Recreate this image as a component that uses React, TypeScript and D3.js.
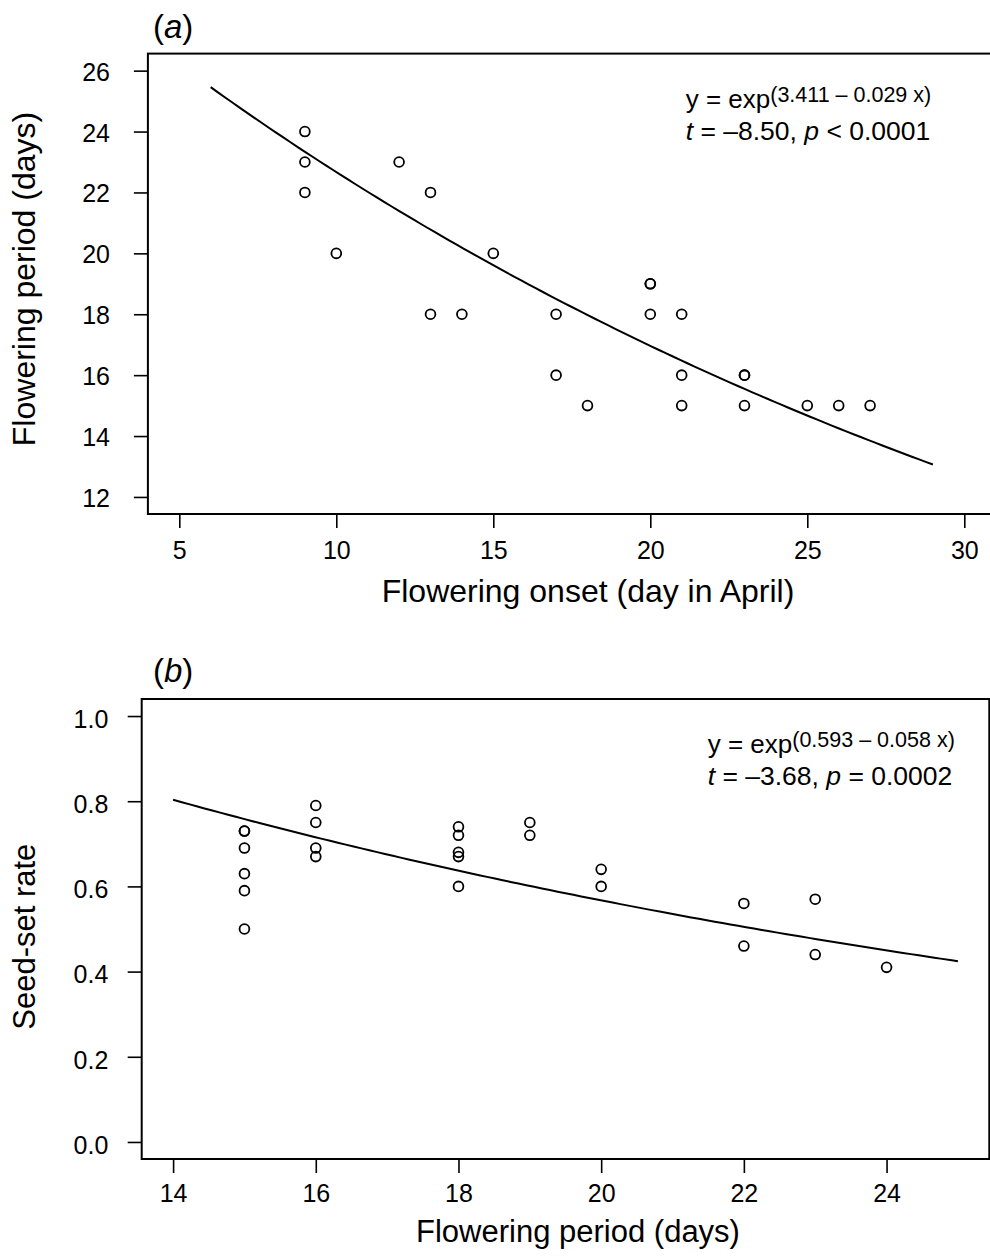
import { useEffect, useRef } from 'react';
import * as d3 from 'd3';

const FONT = '"Liberation Sans", Arial, Helvetica, sans-serif';

// (a) flowering onset (day in April) vs flowering period (days)
const onsetDay = [9, 9, 9, 10, 12, 13, 13, 14, 15, 17, 17, 18, 20, 20, 20, 21, 21, 21, 23, 23, 23, 25, 26, 27];
const onsetPeriod = [24, 23, 22, 20, 23, 22, 18, 18, 20, 18, 16, 15, 19, 19, 18, 18, 16, 15, 16, 16, 15, 15, 15, 15];
const onsetTicksX = [5, 10, 15, 20, 25, 30];
const onsetTicksY = [12, 14, 16, 18, 20, 22, 24, 26];
const onsetFit = { a: 3.411, b: -0.029, from: 6, to: 29 };

// (b) flowering period (days) vs seed-set rate
const seedPeriod = [15, 15, 15, 15, 15, 15, 16, 16, 16, 16, 18, 18, 18, 18, 18, 19, 19, 20, 20, 22, 22, 23, 23, 24];
const seedRate = [0.73, 0.73, 0.69, 0.63, 0.59, 0.50, 0.79, 0.75, 0.69, 0.67, 0.74, 0.72, 0.68, 0.67, 0.60, 0.75, 0.72, 0.64, 0.60, 0.56, 0.46, 0.57, 0.44, 0.41];
const seedTicksX = [14, 16, 18, 20, 22, 24];
const seedTicksY = [0, 0.2, 0.4, 0.6, 0.8, 1.0];
const seedFit = { a: 0.593, b: -0.058, from: 14, to: 25 };

interface PanelSpec {
    tag: string;
    xs: number[];
    ys: number[];
    xTicks: number[];
    yTicks: number[];
    xFormat: (n: number) => string;
    yFormat: (n: number) => string;
    fit: { a: number; b: number; from: number; to: number };
    xlim: [number, number];
    ylim: [number, number];
    box: { left: number; right: number; top: number; bottom: number };
    xLabel: string;
    yLabel: string;
    xLabelPos: [number, number];
    yLabelPos: [number, number];
    labelSize: number;
    xTickPad: number;
    yTickRight: number;
    yTickDy: string;
    titlePos: [number, number];
    eqPos: [number, number];
    expo: string;
    stat: [string, string, string];
}

// R style: axis range padded 4% on each side
const pad = (lim: [number, number]): [number, number] => {
    const d = (lim[1] - lim[0]) * 0.04;
    return [lim[0] - d, lim[1] + d];
};

function drawPanel(svg: d3.Selection<SVGSVGElement, unknown, null, undefined>, p: PanelSpec) {
    const { left, right, top, bottom } = p.box;
    const x = d3.scaleLinear().domain(pad(p.xlim)).range([left, right]);
    const y = d3.scaleLinear().domain(pad(p.ylim)).range([bottom, top]);
    const g = svg.append('g');

    // x axis
    const xa = g.append('g')
        .attr('transform', `translate(0,${bottom})`)
        .call(d3.axisBottom(x).tickValues(p.xTicks).tickSize(14).tickPadding(p.xTickPad).tickFormat(d => p.xFormat(+d)));
    xa.select('.domain').remove();
    xa.attr('font-size', 25).attr('font-family', FONT);
    xa.selectAll('line').attr('stroke', '#000').attr('stroke-width', 1.6);
    xa.selectAll('text').attr('fill', '#000');

    // y axis
    const ya = g.append('g')
        .attr('transform', `translate(${left},0)`)
        .call(d3.axisLeft(y).tickValues(p.yTicks).tickSize(14).tickPadding(left - p.yTickRight - 14).tickFormat(d => p.yFormat(+d)));
    ya.select('.domain').remove();
    ya.attr('font-size', 25).attr('font-family', FONT);
    ya.selectAll('line').attr('stroke', '#000').attr('stroke-width', 1.6);
    ya.selectAll('text').attr('fill', '#000').attr('dy', p.yTickDy);

    // fitted curve
    const curvePts = d3.range(p.fit.from, p.fit.to + 1e-9, (p.fit.to - p.fit.from) / 100)
        .map(v => [v, Math.exp(p.fit.a + p.fit.b * v)] as [number, number]);
    g.append('path')
        .datum(curvePts)
        .attr('fill', 'none')
        .attr('stroke', '#000')
        .attr('stroke-width', 2)
        .attr('d', d3.line<[number, number]>().x(d => x(d[0])).y(d => y(d[1])));

    // points
    g.selectAll('.pt')
        .data(p.xs.map((v, i) => [v, p.ys[i]]))
        .enter()
        .append('circle')
        .attr('class', 'pt')
        .attr('cx', d => x(d[0]))
        .attr('cy', d => y(d[1]))
        .attr('r', 4.9)
        .attr('fill', 'none')
        .attr('stroke', '#000')
        .attr('stroke-width', 1.8);

    // plot box
    g.append('rect')
        .attr('x', left).attr('y', top)
        .attr('width', right - left).attr('height', bottom - top)
        .attr('fill', 'none').attr('stroke', '#000').attr('stroke-width', 2);

    // axis titles
    g.append('text')
        .attr('x', p.xLabelPos[0]).attr('y', p.xLabelPos[1])
        .attr('text-anchor', 'middle')
        .attr('font-family', FONT).attr('font-size', p.labelSize)
        .text(p.xLabel);
    g.append('text')
        .attr('transform', `translate(${p.yLabelPos[0]},${p.yLabelPos[1]}) rotate(-90)`)
        .attr('text-anchor', 'middle')
        .attr('font-family', FONT).attr('font-size', p.labelSize)
        .text(p.yLabel);

    // panel tag
    const tag = g.append('text')
        .attr('x', p.titlePos[0]).attr('y', p.titlePos[1])
        .attr('font-family', FONT).attr('font-size', 33);
    tag.append('tspan').text('(');
    tag.append('tspan').attr('font-style', 'italic').text(p.tag);
    tag.append('tspan').text(')');

    // equation and statistics
    const eq = g.append('text')
        .attr('x', p.eqPos[0]).attr('y', p.eqPos[1])
        .attr('font-family', FONT).attr('font-size', 26);
    eq.append('tspan').text('y = exp');
    eq.append('tspan').attr('font-size', 21.5).attr('dy', -6).text(p.expo);

    const st = g.append('text')
        .attr('x', p.eqPos[0]).attr('y', p.eqPos[1] + 32)
        .attr('font-family', FONT).attr('font-size', 26.5);
    st.append('tspan').attr('font-style', 'italic').text('t');
    st.append('tspan').text(p.stat[0]);
    st.append('tspan').attr('font-style', 'italic').text('p');
    st.append('tspan').text(p.stat[1] + p.stat[2]);
}

export default function App() {
    const svgRef = useRef<SVGSVGElement>(null);

    useEffect(() => {
        if (!svgRef.current) return;
        const svg = d3.select(svgRef.current);
        svg.selectAll('*').remove();

        drawPanel(svg, {
            tag: 'a',
            xs: onsetDay,
            ys: onsetPeriod,
            xTicks: onsetTicksX,
            yTicks: onsetTicksY,
            xFormat: d3.format('d'),
            yFormat: d3.format('d'),
            fit: onsetFit,
            xlim: [5, 30],
            ylim: [12, 26],
            box: { left: 147.9, right: 995.7, top: 53.6, bottom: 514 },
            xLabel: 'Flowering onset (day in April)',
            yLabel: 'Flowering period (days)',
            xLabelPos: [588, 601.7],
            yLabelPos: [35, 279],
            labelSize: 32,
            xTickPad: 13.5,
            yTickRight: 110,
            yTickDy: '0.38em',
            titlePos: [153, 37.5],
            eqPos: [685.7, 108.3],
            expo: '(3.411 \u2013 0.029 x)',
            stat: [' = \u20138.50, ', ' < ', '0.0001'],
        });

        drawPanel(svg, {
            tag: 'b',
            xs: seedPeriod,
            ys: seedRate,
            xTicks: seedTicksX,
            yTicks: seedTicksY,
            xFormat: d3.format('d'),
            yFormat: d3.format('.1f'),
            fit: seedFit,
            xlim: [14, 25],
            ylim: [0, 1],
            box: { left: 141.7, right: 989.3, top: 699, bottom: 1159 },
            xLabel: 'Flowering period (days)',
            yLabel: 'Seed-set rate',
            xLabelPos: [578, 1241.7],
            yLabelPos: [35, 936.7],
            labelSize: 31,
            xTickPad: 11,
            yTickRight: 108.3,
            yTickDy: '0.45em',
            titlePos: [153, 681.7],
            eqPos: [707.7, 753.3],
            expo: '(0.593 \u2013 0.058 x)',
            stat: [' = \u20133.68, ', ' = ', '0.0002'],
        });
    }, []);

    return (
        <svg
            ref={svgRef}
            width={990}
            height={1257}
            style={{ position: 'absolute', left: 0, top: 0, background: '#fff' }}
        />
    );
}
